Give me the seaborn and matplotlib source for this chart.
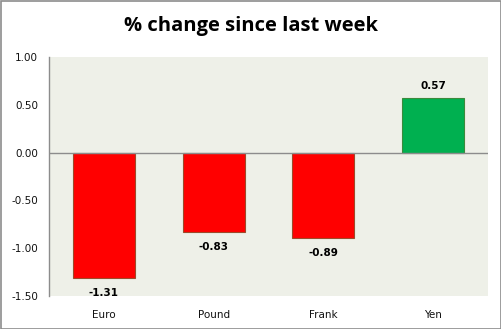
import matplotlib
matplotlib.use("Agg")
import matplotlib.pyplot as plt
import seaborn as sns
import pandas as pd
from matplotlib.patches import Rectangle

categories = ["Euro", "Pound", "Frank", "Yen"]
values = [-1.31, -0.83, -0.89, 0.57]
y_ticks = [1.00, 0.50, 0.00, -0.50, -1.00, -1.50]
title = "% change since last week"

sns.set_theme(style="white")
plt.rcParams['font.family'] = ['DejaVu Sans']

df = pd.DataFrame({"cat": categories, "val": values})
colors = ["#FF0000" if v < 0 else "#00B050" for v in values]
edges = ["#9C4A2A" if v < 0 else "#3C8A3C" for v in values]

fig = plt.figure(figsize=(5.02, 3.29), dpi=100)
ax = fig.add_axes([49/502, 1-296/329, (488-49)/502, (296-57)/329])
ax.set_facecolor("#EEF0E8")

sns.barplot(data=df, x="cat", y="val", hue="cat", palette=colors, legend=False,
            width=0.565, ax=ax, saturation=1)
for p, ec in zip(ax.patches, edges):
    p.set_edgecolor(ec)
    p.set_linewidth(0.8)

ax.set_ylim(-1.5, 1.0)
ax.set_xlim(-0.5, 3.5)
ax.set_yticks(y_ticks)
ax.set_yticklabels([f"{t:.2f}" for t in y_ticks], fontsize=7.5, color="#111111")
ax.tick_params(axis='x', labelsize=7.5, colors="#111111", pad=10, length=0)
ax.tick_params(axis='y', length=0, pad=8)
ax.set_xlabel("")
ax.set_ylabel("")
ax.axhline(0, color="#8C8C8C", lw=1)
for s in ["top", "right", "bottom"]:
    ax.spines[s].set_visible(False)
ax.spines["left"].set_color("#8C8C8C")
ax.spines["left"].set_linewidth(1)

for i, v in enumerate(values):
    if v < 0:
        ax.annotate(f"{v:.2f}", (i, v), xytext=(0, -7.5), textcoords="offset points",
                    ha="center", va="top", fontsize=7.5, fontweight="bold", color="#000000")
    else:
        ax.annotate(f"{v:.2f}", (i, v), xytext=(0, 5), textcoords="offset points",
                    ha="center", va="bottom", fontsize=7.5, fontweight="bold", color="#000000")

fig.text(0.5, 1-26/329, title, ha="center", va="center", fontsize=14.5,
         fontweight="bold", color="#000000", family=["Open Sans", "DejaVu Sans"])

fig.patches.append(Rectangle((0.5/502, 0.5/329), 1-1/502, 1-1/329, transform=fig.transFigure,
                             fill=False, edgecolor="#8C8C8C", lw=1.2))

fig.savefig("out.png", dpi=100)
